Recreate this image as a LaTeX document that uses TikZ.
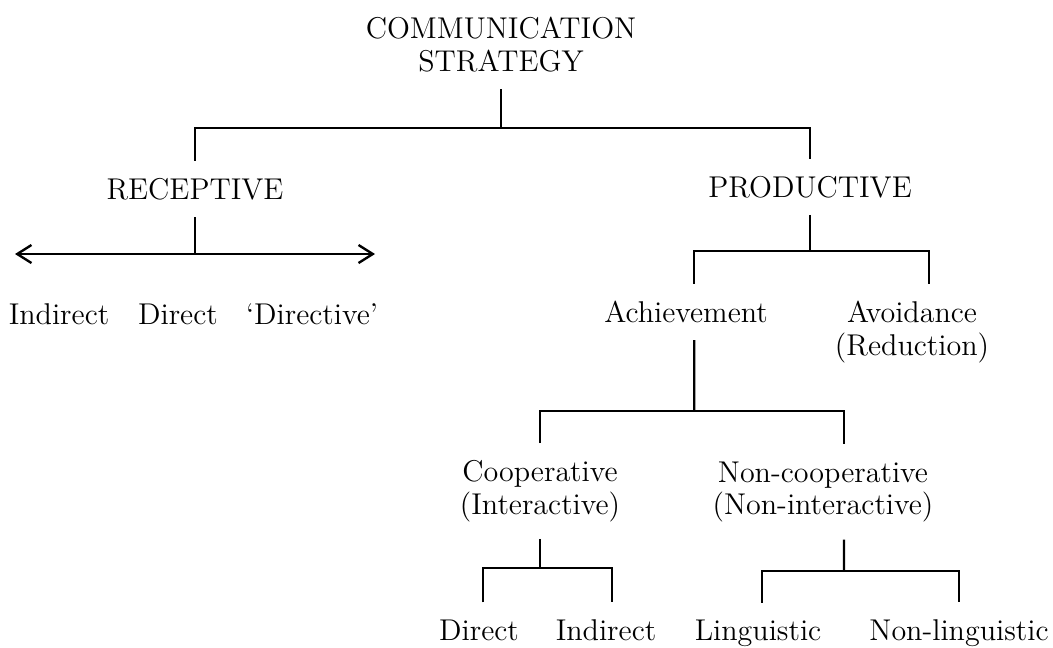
\documentclass[tikz,border=0pt]{standalone}
\usetikzlibrary{arrows.meta}

\begin{document}
\begin{tikzpicture}

      \useasboundingbox (0,0) rectangle (14.04,-8.627);

      \begin{scope}[every node/.style={font=\fontsize{11.4}{12.5}\selectfont,inner sep=6.3pt,align=center}]
        \node (cs)    at (6.68,-0.593)  {COMMUNICATION\\STRATEGY};
        \node (rec)   at (2.6,-2.52)    {RECEPTIVE};
        \node (prod)  at (10.8,-2.493)  {PRODUCTIVE};
        \node (rind)  at (0.787,-4.187) {Indirect};
        \node (rdir)  at (2.373,-4.187) {Direct};
        \node (rdirv) at (4.16,-4.187)  {‘Directive’};
        \node (ach)   at (9.147,-4.16)  {Achievement};
        \node (avo)   at (12.16,-4.427) {Avoidance\\(Reduction)};
        \node (coop)  at (7.2,-6.547)   {Cooperative\\(Interactive)};
        \node (ncoop) at (10.973,-6.56) {Non-cooperative\\(Non-interactive)};
        \node (cdir)  at (6.387,-8.4)   {Direct};
        \node (cind)  at (8.08,-8.4)    {Indirect};
        \node (ling)  at (10.107,-8.44) {Linguistic};
        \node (nling) at (12.787,-8.44) {Non-linguistic};
      \end{scope}

      \coordinate (b1) at (6.68,-1.707);
      \coordinate (b2) at (2.6,-3.387);
      \coordinate (b3) at (10.8,-3.347);
      \coordinate (b4) at (9.257,-5.48);
      \coordinate (b5) at (7.2,-7.573);
      \coordinate (b6) at (11.253,-7.613);
      \coordinate (al) at (0.2,-3.387);
      \coordinate (ar) at (5.0,-3.387);

      \begin{scope}[line width=0.9pt]
        \draw (cs) -- (b1);
        \draw (rec) |- (b1) -| (prod);
        \draw (rec) -- (b2);
        \draw[{Straight Barb[length=1.9mm,width=2.4mm]}-{Straight Barb[length=1.9mm,width=2.4mm]}] (al) -- (ar);
        \draw (prod) -- (b3);
        \draw ([xshift=1.1mm]ach.north) |- (b3) -| ([xshift=2.3mm]avo.north);
        \draw ([xshift=1.1mm]ach.south) -- (b4);
        \draw (coop) |- (b4) -| ([xshift=2.8mm]ncoop.north);
        \draw (coop) -- (b5);
        \draw ([xshift=.5mm]cdir.north) |- (b5) -| ([xshift=.8mm]cind.north);
        \draw ([xshift=2.8mm]ncoop.south) -- (b6);
        \draw ([xshift=.5mm]ling.north) |- (b6) -| (nling);
      \end{scope}

    \end{tikzpicture}
\end{document}
